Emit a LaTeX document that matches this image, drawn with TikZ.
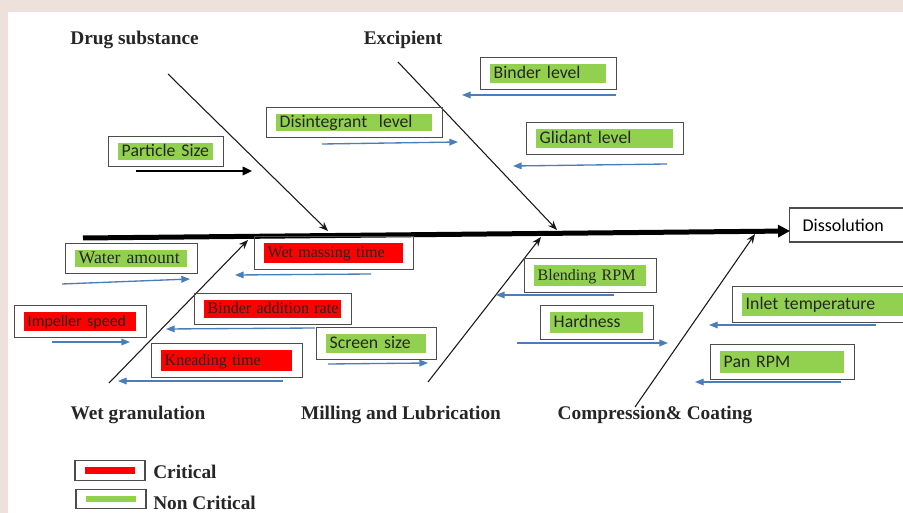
\documentclass[tikz,border=0pt]{standalone}
\usepackage{fontspec}
\setmainfont{Liberation Serif}
\newfontfamily\calfont{Carlito}
\usetikzlibrary{arrows.meta,fit}

\definecolor{okgreen}{HTML}{92D050}
\definecolor{badred}{HTML}{FF0000}
\definecolor{cueblue}{HTML}{4A7EBB}
\definecolor{pagepink}{HTML}{EEE1DC}

\tikzset{
  head/.style={font=\bfseries\fontsize{14.5}{17}\selectfont, text=black!85},
  tag/.style={anchor=west, align=left, inner xsep=2.6pt, inner ysep=0pt,
    text height=9pt, text depth=1.5pt, text=black!85},
  ok/.style={tag, fill=okgreen},
  bad/.style={tag, fill=badred},
  sans/.style={font=\calfont\fontsize{13.3}{15}\selectfont},
  serif/.style={font=\fontsize{12}{14}\selectfont},
  frame/.style={draw=black!70, line width=0.9pt, inner xsep=7.3pt, inner ysep=4.5pt},
  bone/.style={draw=black!90, line width=0.8pt, -{Stealth[length=7pt,width=5.5pt]}},
  cue/.style={draw=cueblue, line width=1pt, -{Triangle[length=6.5pt,width=5pt]}},
}

\begin{document}
\begin{tikzpicture}[x=0.75pt, y=-0.75pt]
  \useasboundingbox (0,0) rectangle (903,513);
  \fill[pagepink] (0,0) rectangle (903,513);
  \fill[white] (8,12) rectangle (903,513);

  % spine and effect
  \node[draw=black!70, line width=0.9pt, anchor=west, minimum height=25.5pt,
    text width=100pt, inner xsep=9.75pt, align=left,
    font=\calfont\fontsize{13.5}{15}\selectfont] (dsl) at (789,225) {Dissolution};
  \coordinate (tail) at (83,238);
  \coordinate (spine-end) at (790,231);
  \draw[line width=3.75pt, -{Triangle[length=9pt,width=9pt]}] (tail) -- (spine-end);

  % bones
  \foreach \n/\ax/\ay/\bx/\by in {drg/168/74/328/231, exc/398/62/557/230,
      wet/109/383/248/240, mil/428/382/541/237, cmp/635/407/755/234} {
    \coordinate (\n-a) at (\ax,\ay);
    \coordinate (\n-b) at (\bx,\by);
    \draw[bone] (\n-a) -- (\n-b);
  }

  % categories
  \node[head] (drg) at (134.5,40) {Drug substance};
  \node[head] (exc) at (403,40) {Excipient};
  \node[head] (wet) at (138,415) {Wet granulation};
  \node[head] (mil) at (401,415) {Milling and Lubrication};
  \node[head] (cmp) at (655,415) {Compression\& Coating};

  % factors
  \node[ok, sans, text width=66pt, minimum height=12.75pt] (psz) at (118,151.5) {Particle Size};
  \node[ok, sans, text width=111.8pt, minimum height=12.75pt] (dis) at (276,122.5) {Disintegrant~ level};
  \node[ok, sans, text width=81.8pt, minimum height=14.25pt] (bnd) at (490,73.5) {Binder level};
  \node[ok, sans, text width=97.55pt, minimum height=14.25pt] (gld) at (536,138.5) {Glidant level};
  \node[ok, font=\fontsize{13.3}{15}\selectfont, text width=78.8pt, minimum height=12.75pt] (wat) at (75,258.5) {Water amount};
  \node[bad, serif, text width=99.05pt, minimum height=15pt] (wms) at (264,253) {Wet massing time};
  \node[bad, font=\calfont\fontsize{12}{14}\selectfont, text width=78.8pt, minimum height=14.25pt] (imp) at (24,321.5) {Impeller speed};
  \node[bad, serif, text width=97.55pt, minimum height=13.5pt] (bar) at (204,309) {\mbox{Binder addition rate}};
  \node[ok, sans, text width=69.8pt, minimum height=14.25pt] (scr) at (326,343.5) {Screen size};
  \node[bad, serif, text width=93.05pt, minimum height=15.75pt] (knd) at (161,360.5) {Kneading time};
  \node[ok, serif, text width=78.8pt, minimum height=15.75pt] (bld) at (534,275.5) {Blending RPM};
  \node[ok, sans, text width=64.55pt, minimum height=15.75pt] (hrd) at (550,322.5) {Hardness};
  \node[ok, sans, text width=126pt, minimum height=17.25pt] (inl) at (742,304.5) {Inlet temperature};
  \node[ok, sans, text width=87.8pt, minimum height=16.5pt] (pan) at (720,362) {Pan RPM};
  \foreach \n in {psz,dis,bnd,gld,wat,wms,imp,bar,scr,knd,bld,hrd,inl,pan}
    \node[frame, fit=(\n)] (\n-f) {};

  % factor arrows
  \coordinate (psz-a) at (136,171);
  \coordinate (psz-b) at (252,171);
  \draw[line width=1pt, -{Triangle[length=7pt,width=6.5pt]}] (psz-a) -- (psz-b);
  \foreach \n/\ax/\ay/\bx/\by in {dis/322/144/458/142, bnd/616/95/462/95,
      gld/667/164/513/166, wat/62/284/190/279, wms/371/274/235/275,
      imp/52/342/130/342, bar/315/328/166/329, scr/328/364/428/363,
      knd/283/381/118/381, bld/614/295/496/295, hrd/517/343/668/343,
      inl/876/325/709/325, pan/841/382/695/382} {
    \coordinate (\n-a) at (\ax,\ay);
    \coordinate (\n-b) at (\bx,\by);
    \draw[cue] (\n-a) -- (\n-b);
  }

  % legend
  \node[fill=badred, minimum width=37.5pt, minimum height=5.25pt, inner sep=0pt] (lred) at (110,470.5) {};
  \node[fill=okgreen, minimum width=37.5pt, minimum height=4.5pt, inner sep=0pt] (lgrn) at (111,499) {};
  \node[frame, fit=(lred)] (lred-f) {};
  \node[frame, fit=(lgrn)] (lgrn-f) {};
  \node[head, anchor=west, inner sep=0pt] (lcrit) at (153,472) {Critical};
  \node[head, anchor=west, inner sep=0pt] (lnon) at (153,503) {Non Critical};
\end{tikzpicture}
\end{document}
